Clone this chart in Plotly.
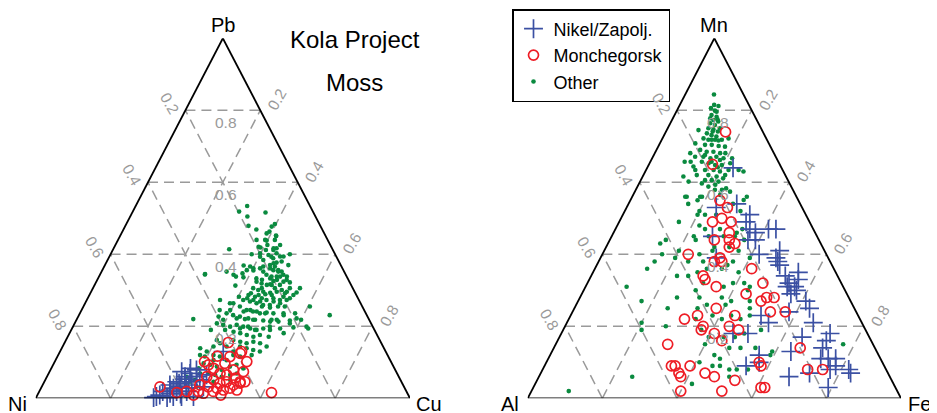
import plotly.graph_objects as go

# ---------------- data (compositions, fractions) ----------------
TICKS = [0.2, 0.4, 0.6, 0.8]
LEFT_VERTICES = ["Pb", "Ni", "Cu"]     # top, left, right
RIGHT_VERTICES = ["Mn", "Al", "Fe"]
GROUPS = ["Nikel/Zapolj.", "Monchegorsk", "Other"]

# Left panel: (Pb, Ni, Cu)
L_OTHER = [
    (.534,.168,.298),(.519,.197,.284),(.516,.128,.356),(.505,.182,.313),(.479,.192,.329),(.469,.176,.355),
    (.484,.119,.397),(.477,.131,.392),(.463,.144,.393),(.458,.154,.388),(.451,.132,.417),(.440,.141,.419),
    (.440,.190,.370),(.438,.164,.398),(.421,.194,.385),(.426,.134,.440),(.417,.148,.435),(.412,.159,.429),
    (.412,.179,.409),(.414,.276,.310),(.403,.199,.398),(.400,.223,.377),(.398,.179,.423),(.403,.155,.442),
    (.384,.200,.416),(.389,.171,.440),(.394,.141,.465),(.380,.153,.467),(.377,.168,.455),(.370,.140,.490),
    (.370,.189,.441),(.366,.209,.425),(.361,.220,.419),(.356,.258,.386),(.355,.241,.404),(.345,.375,.280),
    (.338,.296,.366),(.352,.314,.334),(.336,.277,.387),(.356,.187,.457),(.352,.176,.472),(.343,.167,.490),
    (.343,.212,.445),(.333,.207,.460),(.329,.191,.480),(.329,.165,.506),(.324,.248,.428),(.319,.237,.444),
    (.315,.225,.460),(.315,.212,.473),(.315,.190,.495),(.306,.168,.526),(.306,.141,.553),(.306,.266,.428),
    (.301,.255,.444),(.296,.244,.460),(.293,.227,.480),(.296,.208,.496),(.292,.188,.520),(.287,.168,.545),
    (.287,.288,.425),(.282,.273,.445),(.278,.257,.465),(.273,.247,.480),(.278,.226,.496),(.273,.211,.516),
    (.273,.193,.534),(.269,.293,.438),(.264,.278,.458),(.259,.263,.478),(.259,.245,.496),(.255,.225,.520),
    (.255,.207,.538),(.255,.140,.605),(.273,.371,.356),(.264,.349,.387),(.282,.316,.402),(.273,.309,.418),
    (.220,.469,.311),(.255,.327,.418),(.245,.314,.441),(.241,.299,.460),(.236,.283,.481),(.238,.264,.498),
    (.236,.247,.517),(.236,.220,.544),(.236,.189,.575),(.231,.099,.670),(.227,.398,.375),(.236,.372,.392),
    (.231,.357,.412),(.227,.341,.432),(.222,.321,.457),(.218,.305,.477),(.216,.284,.500),(.213,.267,.520),
    (.218,.247,.535),(.216,.213,.571),(.218,.182,.600),(.208,.412,.380),(.204,.397,.399),(.199,.381,.420),
    (.204,.361,.435),(.199,.346,.455),(.194,.330,.476),(.190,.315,.495),(.194,.295,.511),(.190,.279,.531),
    (.194,.250,.556),(.197,.213,.590),(.194,.175,.631),(.185,.379,.436),(.181,.363,.456),(.176,.348,.476),
    (.171,.333,.496),(.176,.313,.511),(.171,.292,.537),(.181,.247,.572),(.139,.491,.370),(.130,.478,.392),
    (.144,.453,.403),(.153,.431,.416),(.162,.391,.447),(.157,.375,.468),(.153,.360,.487),(.157,.340,.503),
    (.153,.324,.523),(.144,.311,.545),(.139,.367,.494),(.134,.352,.514),(.130,.336,.534),(.120,.501,.379),
    (.116,.490,.394),(.120,.465,.415),(.116,.450,.434),(.106,.437,.457),(.120,.412,.468),(.116,.396,.488),
    (.120,.363,.517),(.097,.503,.400),(.093,.487,.420),(.088,.472,.440),(.079,.464,.457),(.088,.437,.475),
    (.093,.417,.490),(.069,.504,.427),(.065,.488,.447),(.060,.473,.467),(.065,.448,.487),(.069,.428,.503),
    (.069,.526,.405),(.051,.549,.400),(.046,.502,.452),(.083,.523,.394),(.060,.567,.373),(.046,.565,.389),
    (.344,.376,.280),
    (.452,.132,.416),(.440,.167,.393),(.417,.156,.427),(.426,.168,.406),(.419,.190,.391),(.393,.204,.403),
    (.393,.174,.433),(.394,.150,.456),(.400,.121,.479),(.369,.260,.371),(.366,.244,.390),(.361,.238,.401),
    (.375,.177,.448),(.366,.178,.456),(.361,.193,.446),(.356,.174,.470),(.352,.167,.481),(.352,.216,.432),
    (.338,.201,.461),(.338,.187,.475),(.338,.178,.484),(.338,.160,.502),(.343,.300,.357),(.313,.310,.377),
    (.347,.274,.379),(.333,.244,.423),(.329,.231,.440),(.326,.202,.472),(.324,.176,.500),(.322,.160,.518),
    (.317,.215,.468),(.306,.243,.451),(.306,.208,.486),(.301,.192,.507),(.296,.181,.523),(.294,.156,.550),
    (.292,.279,.429),(.287,.261,.452),(.289,.242,.469),(.287,.226,.487),(.282,.197,.521),(.278,.182,.540),
    (.278,.296,.426),(.273,.282,.445),(.269,.266,.465),(.269,.230,.501),(.264,.215,.521),(.255,.268,.477),
    (.252,.248,.500),(.264,.340,.396),(.245,.358,.397),(.241,.324,.435),(.245,.304,.451),(.241,.289,.470),
    (.236,.269,.495),(.231,.222,.547),(.245,.386,.369),(.218,.390,.392),(.222,.352,.426),(.220,.331,.449),
    (.218,.310,.472),(.218,.261,.521),(.213,.245,.542),(.208,.217,.575),(.222,.192,.586),(.190,.437,.373),
    (.190,.399,.411),(.194,.357,.449),(.199,.333,.468),(.190,.319,.491),(.199,.275,.526),(.199,.177,.624),
    (.162,.435,.403),(.144,.418,.438),(.144,.382,.474),(.130,.407,.463),(.106,.472,.422),(.083,.404,.513),
    (.051,.455,.494),(.032,.554,.414),
]
L_NIKEL = [
    (.005,.675,.320),(.019,.651,.330),(.014,.634,.352),(.028,.618,.354),(.032,.598,.370),(.046,.600,.354),
    (.060,.571,.369),(.074,.573,.353),(.069,.553,.378),(.079,.531,.390),(.046,.560,.394),(.019,.587,.394),
    (.002,.648,.350),(.051,.536,.413),(.032,.536,.432),(.005,.630,.365),(.005,.576,.419),(.130,.434,.436),
    (.009,.664,.327),(.005,.608,.387),(.037,.623,.340),(.060,.540,.400),(.065,.511,.424),(.037,.573,.390),
    (.019,.614,.367),(.002,.684,.314),(.042,.596,.362),(.053,.575,.372),(.028,.584,.388),(.083,.545,.372),
    (.012,.607,.381),(.023,.629,.348),
]
L_MONCHE = [
    (.155,.408,.437),(.117,.456,.427),(.097,.446,.457),(.116,.423,.461),(.125,.391,.484),(.102,.385,.513),
    (.093,.492,.415),(.079,.432,.489),(.046,.418,.536),(.032,.652,.316),(.016,.615,.369),(.019,.556,.425),
    (.014,.545,.441),(.016,.362,.622),(.051,.499,.450),(.042,.487,.471),(.046,.467,.487),(.037,.453,.510),
    (.042,.433,.525),(.028,.502,.470),(.023,.487,.490),(.028,.467,.505),(.023,.451,.526),(.032,.523,.445),
    (.037,.543,.420),(.060,.513,.427),(.069,.473,.458),(.083,.483,.434),(.065,.457,.478),(.056,.439,.505),
    (.009,.501,.490),(.009,.574,.417),(.019,.516,.465),(.019,.587,.394),(.102,.498,.400),(.046,.431,.523),
    (.074,.408,.518),(.130,.385,.485),
]

# Right panel: (Mn, Al, Fe)
R_OTHER = [
    (.844,.079,.077),(.815,.093,.092),(.812,.083,.105),(.806,.106,.088),(.799,.099,.102),(.787,.114,.099),
    (.782,.103,.115),(.773,.116,.111),(.769,.105,.126),(.764,.129,.107),(.759,.119,.122),(.745,.170,.085),
    (.750,.141,.109),(.747,.129,.124),(.750,.110,.140),(.736,.152,.112),(.731,.142,.127),(.727,.131,.142),
    (.722,.168,.110),(.718,.157,.125),(.718,.139,.143),(.718,.121,.161),(.722,.101,.177),(.708,.197,.095),
    (.704,.173,.123),(.704,.155,.141),(.701,.138,.161),(.699,.122,.179),(.681,.224,.095),(.690,.193,.117),
    (.685,.178,.137),(.685,.160,.155),(.681,.144,.175),(.671,.216,.113),(.671,.194,.135),(.667,.177,.156),
    (.671,.159,.170),(.667,.142,.191),(.667,.119,.214),(.657,.251,.092),(.657,.205,.138),(.653,.189,.158),
    (.648,.174,.178),(.648,.156,.196),(.644,.234,.122),(.634,.208,.158),(.634,.185,.181),(.630,.170,.200),
    (.634,.145,.221),(.634,.118,.248),(.616,.275,.109),(.620,.237,.143),(.620,.206,.174),(.616,.186,.198),
    (.620,.161,.219),(.630,.107,.263),(.602,.268,.130),(.606,.204,.190),(.602,.188,.210),(.597,.235,.168),
    (.560,.294,.146),(.588,.222,.190),(.593,.201,.206),(.579,.190,.231),(.560,.133,.307),(.574,.171,.255),
    (.796,.096,.108),(.778,.122,.100),(.775,.104,.121),(.741,.134,.125),(.741,.120,.139),(.718,.148,.134),
    (.716,.131,.153),(.676,.187,.137),(.662,.154,.184),(.657,.179,.164),(.642,.170,.188),(.611,.171,.218),
    (.579,.209,.212),(.606,.222,.172),(.634,.234,.132),(.657,.235,.108),(.681,.130,.189),(.653,.131,.216),
    (.583,.177,.240),(.560,.253,.187),(.565,.202,.233),(.551,.146,.303),(.560,.298,.142),(.560,.258,.182),
    (.55,.27,.18),(.54,.30,.16),(.52,.28,.20),(.51,.29,.20),(.51,.27,.22),(.51,.24,.25),(.54,.18,.28),(.52,.17,.31),
    (.49,.35,.16),(.48,.30,.22),(.47,.29,.24),(.47,.25,.28),(.46,.21,.33),(.47,.19,.34),(.45,.33,.22),(.45,.29,.26),
    (.45,.25,.30),(.45,.22,.33),(.44,.20,.36),(.43,.43,.14),(.44,.41,.15),(.44,.33,.23),(.42,.29,.29),(.42,.25,.33),
    (.41,.23,.36),(.40,.44,.16),(.41,.39,.20),(.40,.34,.26),(.41,.30,.29),(.39,.21,.40),(.38,.47,.15),(.39,.41,.20),
    (.38,.38,.24),(.38,.34,.28),(.38,.26,.36),(.36,.50,.14),(.34,.43,.23),(.35,.37,.28),(.36,.34,.30),(.36,.30,.34),
    (.37,.28,.35),(.35,.26,.39),(.31,.58,.11),(.34,.40,.26),(.32,.37,.31),(.31,.32,.37),(.32,.29,.39),(.32,.26,.42),
    (.31,.25,.44),(.27,.56,.17),(.28,.46,.26),(.30,.40,.30),(.28,.40,.32),(.28,.34,.38),(.27,.32,.41),(.30,.26,.44),
    (.27,.27,.46),(.25,.50,.25),(.25,.42,.33),(.26,.39,.35),(.26,.34,.40),(.25,.28,.47),(.22,.44,.34),(.23,.39,.38),
    (.22,.37,.41),(.23,.34,.43),(.22,.32,.46),(.23,.29,.48),(.20,.53,.27),(.21,.59,.20),(.19,.60,.21),(.19,.44,.37),
    (.17,.43,.40),(.17,.39,.44),(.17,.36,.47),(.18,.33,.49),(.19,.28,.53),(.15,.45,.40),(.14,.39,.47),(.14,.36,.50),
    (.14,.32,.54),(.12,.29,.59),(.13,.28,.59),(.10,.49,.41),(.09,.46,.45),(.09,.44,.47),(.08,.42,.50),(.08,.40,.52),
    (.08,.37,.55),(.15,.08,.77),(.04,.54,.42),(.06,.43,.51),(.06,.69,.25),(.02,.88,.10),(.11,.43,.46),(.12,.44,.44),
]
R_NIKEL = [
    (.53,.23,.24),(.54,.17,.29),(.51,.15,.34),(.49,.17,.34),(.47,.17,.36),(.46,.16,.38),(.44,.17,.39),(.44,.19,.37),
    (.47,.12,.41),(.47,.10,.43),(.45,.28,.27),(.39,.30,.31),(.40,.18,.42),(.41,.12,.47),(.39,.14,.47),(.38,.14,.48),
    (.37,.14,.49),(.34,.14,.52),(.32,.14,.54),(.35,.10,.55),(.33,.11,.56),(.31,.15,.54),(.31,.13,.56),(.30,.13,.57),
    (.29,.15,.56),(.27,.12,.61),(.25,.12,.63),(.23,.26,.51),(.21,.25,.54),(.21,.13,.66),(.24,.18,.58),(.18,.32,.50),
    (.18,.36,.46),(.17,.18,.65),(.13,.23,.64),(.18,.10,.72),(.16,.12,.72),(.14,.14,.72),(.11,.16,.73),(.11,.14,.75),
    (.11,.12,.77),(.09,.13,.78),(.08,.15,.77),(.08,.10,.82),(.07,.10,.83),(.07,.21,.72),(.06,.27,.67),(.03,.18,.79),
    (.12,.32,.56),(.09,.37,.54),(.10,.33,.57),(.64,.13,.23),
]
R_MONCHE = [
    (.74,.10,.16),(.65,.18,.17),(.55,.21,.24),(.53,.20,.27),(.50,.23,.27),(.49,.26,.25),(.49,.21,.30),(.46,.23,.31),
    (.44,.28,.28),(.44,.24,.32),(.43,.23,.34),(.40,.37,.23),(.42,.25,.33),(.39,.29,.32),(.38,.31,.31),(.38,.29,.33),
    (.36,.22,.42),(.34,.36,.30),(.33,.36,.31),(.31,.34,.35),(.32,.21,.47),(.29,.27,.44),(.28,.22,.50),(.28,.20,.52),
    (.27,.24,.49),(.25,.37,.38),(.23,.33,.44),(.24,.23,.53),(.24,.19,.57),(.23,.43,.34),(.22,.47,.31),(.20,.43,.37),
    (.19,.44,.37),(.20,.36,.44),(.19,.34,.47),(.18,.41,.41),(.16,.40,.44),(.15,.55,.30),(.14,.20,.66),(.09,.57,.34),
    (.09,.56,.35),(.09,.52,.39),(.07,.49,.44),(.07,.56,.37),(.06,.56,.38),(.06,.47,.47),(.05,.42,.53),(.10,.33,.57),
    (.09,.33,.58),(.08,.21,.71),(.08,.17,.75),(.02,.58,.40),(.02,.47,.51),(.03,.36,.61),(.03,.35,.62),
]

# ---------------- styling ----------------
W, H = 937, 413
OFF = 8  # the page body margin shifts the figure by this many pixels
FONT = "Liberation Sans, Arial, Helvetica, sans-serif"
BLUE, RED, GREEN = "#3B50A3", "#EE1D25", "#0A8A3F"
GRID = "#9a9a9a"
TICKC = "#9a9a9a"

# triangle placement in page pixels (left x, right x); top/base y shared
PANELS = [
    dict(x0=35.7, x1=410.0, ax="x", ay="y", verts=LEFT_VERTICES,
         data=[L_OTHER, L_NIKEL, L_MONCHE], legend=False),
    dict(x0=527.7, x1=901.0, ax="x2", ay="y2", verts=RIGHT_VERTICES,
         data=[R_OTHER, R_NIKEL, R_MONCHE], legend=True),
]
TOP_Y, BASE_Y = 38.3, 398.3


def px(xp):
    return (xp - OFF) / W


def py(yp):
    return 1 - (yp - OFF) / H


def tern_xy(rows):
    """(top, left, right) compositions -> cartesian coordinates on a unit triangle."""
    xs, ys = [], []
    for a, b, c in rows:
        s = a + b + c
        xs.append((c + a / 2) / s)
        ys.append(a / s)
    return xs, ys


def pt(a, b, c):
    x, y = tern_xy([(a, b, c)])
    return x[0], y[0]


fig = go.Figure()
styles = [
    dict(name=GROUPS[2], marker=dict(symbol="circle", size=4.6, color=GREEN), rank=3),
    dict(name=GROUPS[0], marker=dict(symbol="cross-thin", size=13.5, color=BLUE,
                                     line=dict(color=BLUE, width=1.7)), rank=1),
    dict(name=GROUPS[1], marker=dict(symbol="circle-open", size=10, color=RED,
                                     line=dict(color=RED, width=1.7)), rank=2),
]

layout_axes = {}
shapes, annotations = [], []
for i, p in enumerate(PANELS):
    sfx = "" if i == 0 else "2"
    dom_x = [px(p["x0"]), px(p["x1"])]
    dom_y = [py(BASE_Y), py(TOP_Y)]
    layout_axes["xaxis" + sfx] = dict(domain=dom_x, range=[0, 1], visible=False, fixedrange=True)
    layout_axes["yaxis" + sfx] = dict(domain=dom_y, range=[0, 1], visible=False, fixedrange=True,
                                      anchor=p["ax"])
    for rows, st in zip(p["data"], styles):
        xs, ys = tern_xy(rows)
        fig.add_trace(go.Scatter(
            x=xs, y=ys, mode="markers", name=st["name"], marker=st["marker"],
            xaxis=p["ax"], yaxis=p["ay"], cliponaxis=False,
            showlegend=p["legend"], legendrank=st["rank"], hoverinfo="skip"))

    xr, yr = p["ax"], p["ay"]
    # grid lines (three families)
    for t in TICKS:
        segs = [
            (pt(t, 1 - t, 0), pt(t, 0, 1 - t)),      # top component const
            (pt(0, 1 - t, t), pt(1 - t, 0, t)),      # right component const
            (pt(0, t, 1 - t), pt(1 - t, t, 0)),      # left component const
        ]
        for (xa, ya), (xb, yb) in segs:
            shapes.append(dict(type="line", xref=xr, yref=yr, x0=xa, y0=ya, x1=xb, y1=yb,
                               line=dict(color=GRID, width=1.5, dash="10px,6px"), layer="below"))
    # outline
    corners = [pt(0, 1, 0), pt(0, 0, 1), pt(1, 0, 0)]
    for k in range(3):
        (xa, ya), (xb, yb) = corners[k], corners[(k + 1) % 3]
        shapes.append(dict(type="line", xref=xr, yref=yr, x0=xa, y0=ya, x1=xb, y1=yb,
                           line=dict(color="black", width=1.8), layer="above"))
    # tick labels
    for t in TICKS:
        lab = f"{t:.1f}"
        xa, ya = pt(1 - t, t, 0)
        annotations.append(dict(x=xa, y=ya, xref=xr, yref=yr, text=lab, showarrow=False,
                                textangle=60, xshift=-15.5, yshift=7,
                                font=dict(family=FONT, size=15.5, color=TICKC)))
        xa, ya = pt(1 - t, 0, t)
        annotations.append(dict(x=xa, y=ya, xref=xr, yref=yr, text=lab, showarrow=False,
                                textangle=-60, xshift=16.5, yshift=11,
                                font=dict(family=FONT, size=15.5, color=TICKC)))
        xa, ya = pt(t, (1 - t) / 2, (1 - t) / 2)
        annotations.append(dict(x=xa, y=ya, xref=xr, yref=yr, text=lab, showarrow=False,
                                xshift=3.5, yshift=-12.5,
                                font=dict(family=FONT, size=15.5, color=TICKC)))
    # vertex labels
    vt, vl, vr = p["verts"]
    for (a, b, c), txt, dx, dy in [((1, 0, 0), vt, 0, 13.5), ((0, 1, 0), vl, -18, -6),
                                   ((0, 0, 1), vr, 18.5, -6)]:
        xa, ya = pt(a, b, c)
        annotations.append(dict(x=xa, y=ya, xref=xr, yref=yr, text=txt, showarrow=False,
                                xshift=dx, yshift=dy,
                                font=dict(family=FONT, size=20, color="black")))

# titles
annotations.append(dict(x=px(354.5), y=py(23.5), xref="paper", yref="paper", text="Kola Project",
                        showarrow=False, font=dict(family=FONT, size=24, color="black")))
annotations.append(dict(x=px(354), y=py(67), xref="paper", yref="paper", text="Moss",
                        showarrow=False, font=dict(family=FONT, size=24, color="black")))

fig.update_layout(
    width=W, height=H, margin=dict(l=0, r=0, t=0, b=0),
    paper_bgcolor="white", plot_bgcolor="white",
    shapes=shapes, annotations=annotations,
    legend=dict(x=px(512), y=py(9), xanchor="left", yanchor="top",
                bordercolor="black", borderwidth=1.5, bgcolor="white",
                font=dict(family=FONT, size=18, color="black"),
                itemclick=False, itemdoubleclick=False),
    font=dict(family=FONT),
    **layout_axes,
)

fig.write_html("out.html")
